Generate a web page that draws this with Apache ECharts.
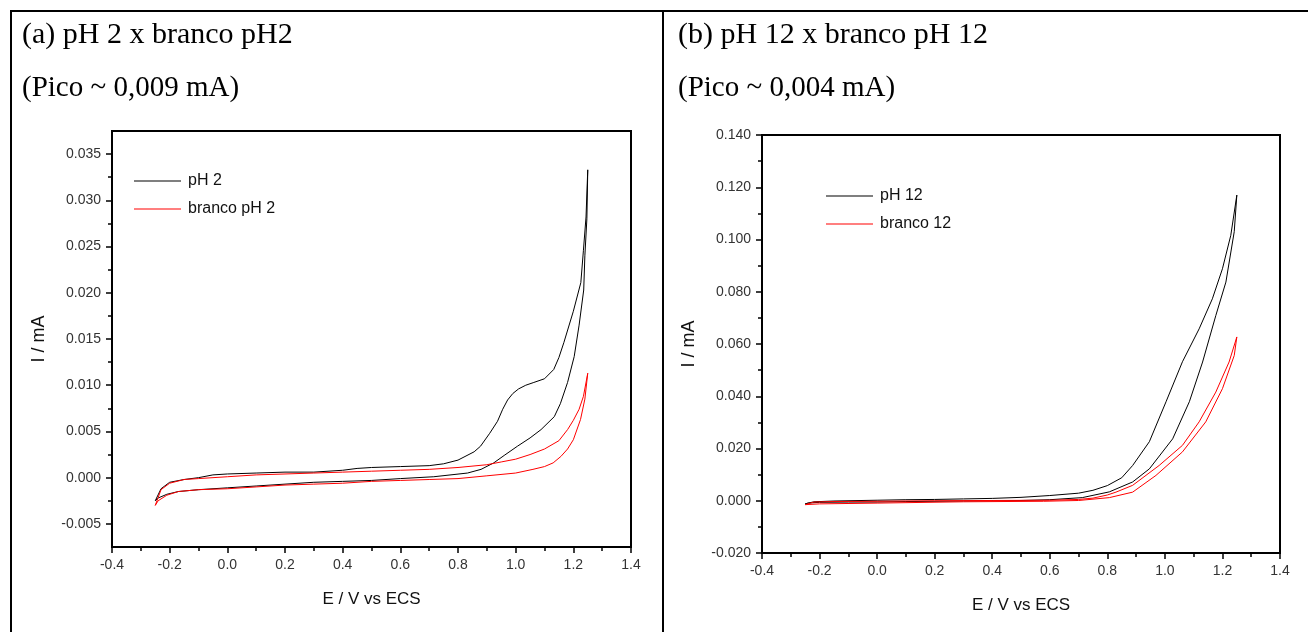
<!DOCTYPE html>
<html>
<head>
<meta charset="utf-8">
<script src="https://cdn.jsdelivr.net/npm/echarts@6/dist/echarts.min.js"></script>
<style>
html,body{margin:0;padding:0;background:#fff;}
#chart{width:1308px;height:632px;}
</style>
</head>
<body>
<div id="chart"></div>
<script>
// ---------- DATA ----------
var titleA1 = '(a) pH 2 x branco pH2';
var titleA2 = '(Pico ~ 0,009 mA)';
var titleB1 = '(b) pH 12 x branco pH 12';
var titleB2 = '(Pico ~ 0,004 mA)';
var xName = 'E / V vs ECS';
var yName = 'I / mA';

var xMajorTicks = [-0.4, -0.2, 0.0, 0.2, 0.4, 0.6, 0.8, 1.0, 1.2, 1.4];
var xMinorTicks = [-0.3, -0.1, 0.1, 0.3, 0.5, 0.7, 0.9, 1.1, 1.3];
var yMajorTicksA = [-0.005, 0.000, 0.005, 0.010, 0.015, 0.020, 0.025, 0.030, 0.035];
var yMinorTicksA = [-0.0025, 0.0025, 0.0075, 0.0125, 0.0175, 0.0225, 0.0275, 0.0325];
var yMajorTicksB = [-0.020, 0.000, 0.020, 0.040, 0.060, 0.080, 0.100, 0.120, 0.140];
var yMinorTicksB = [-0.010, 0.010, 0.030, 0.050, 0.070, 0.090, 0.110, 0.130];

var namesA = ['pH 2', 'branco pH 2'];
var namesB = ['pH 12', 'branco 12'];

// pH 2 (black): forward scan then reverse scan, [E, I]
var pH2 = [
  [-0.25,-0.0025],[-0.23,-0.0012],[-0.2,-0.0005],[-0.15,-0.0002],[-0.1,0.0000],[-0.05,0.0003],
  [0.0,0.0004],[0.1,0.0005],[0.2,0.0006],[0.3,0.0006],[0.4,0.0008],[0.45,0.0010],[0.5,0.0011],
  [0.6,0.0012],[0.7,0.0013],[0.75,0.0015],[0.8,0.0019],[0.856,0.0028],[0.878,0.0034],[0.91,0.0048],
  [0.937,0.0061],[0.955,0.0074],[0.972,0.0084],[0.99,0.0091],[1.01,0.0096],[1.035,0.0100],[1.063,0.0103],
  [1.1,0.0107],[1.132,0.0117],[1.15,0.0130],[1.167,0.0146],[1.2,0.0180],[1.226,0.0211],[1.235,0.0246],
  [1.244,0.0282],[1.25,0.0333],
  [1.247,0.0280],[1.240,0.0240],[1.236,0.0203],[1.22,0.0165],[1.203,0.0131],[1.18,0.0103],[1.155,0.0080],
  [1.134,0.0066],[1.088,0.0052],[1.05,0.0043],[1.006,0.0034],[0.96,0.0024],[0.924,0.0016],[0.88,0.0009],
  [0.833,0.0005],[0.716,0.0001],[0.6,-0.0001],[0.5,-0.0003],[0.4,-0.0004],[0.3,-0.0005],[0.2,-0.0007],
  [0.1,-0.0009],[0.0,-0.0011],[-0.1,-0.0013],[-0.17,-0.0015],[-0.21,-0.0018],[-0.24,-0.0022],[-0.25,-0.0025]
];
// branco pH 2 (red)
var brancoPH2 = [
  [-0.25,-0.0030],[-0.23,-0.0013],[-0.2,-0.0006],[-0.15,-0.0002],[-0.1,-0.0001],[0.0,0.0001],
  [0.1,0.0003],[0.2,0.0004],[0.3,0.0005],[0.4,0.0006],[0.5,0.0007],[0.6,0.0008],[0.7,0.0009],
  [0.8,0.0011],[0.9,0.0014],[0.95,0.0017],[1.0,0.0020],[1.05,0.0025],[1.1,0.0031],[1.15,0.0040],
  [1.18,0.0052],[1.2,0.0062],[1.22,0.0074],[1.235,0.0088],[1.25,0.0113],
  [1.24,0.0085],[1.225,0.0063],[1.2,0.0041],[1.18,0.0031],[1.157,0.0023],[1.13,0.0016],[1.1,0.0012],
  [1.06,0.0009],[1.0,0.0005],[0.9,0.0002],[0.8,-0.0001],[0.7,-0.0002],[0.6,-0.0003],[0.5,-0.0004],
  [0.4,-0.0006],[0.3,-0.0007],[0.2,-0.0008],[0.1,-0.0010],[0.0,-0.0012],[-0.1,-0.0013],[-0.17,-0.0015],
  [-0.21,-0.0019],[-0.24,-0.0025],[-0.25,-0.0030]
];
// pH 12 (black)
var pH12 = [
  [-0.25,-0.0012],[-0.22,-0.0004],[-0.15,-0.0001],[0.0,0.0002],[0.1,0.0004],[0.2,0.0005],[0.3,0.0007],
  [0.4,0.0009],[0.5,0.0013],[0.6,0.0020],[0.7,0.0029],[0.75,0.0040],[0.8,0.0058],[0.85,0.0088],
  [0.888,0.0135],[0.946,0.0226],[1.004,0.0379],[1.061,0.0532],[1.119,0.0658],[1.165,0.0773],
  [1.2,0.0888],[1.229,0.1016],[1.25,0.1170],
  [1.241,0.1030],[1.212,0.0837],[1.177,0.0709],[1.131,0.0531],[1.085,0.0379],[1.027,0.0237],
  [0.946,0.0122],[0.888,0.0072],[0.807,0.0034],[0.713,0.0012],[0.6,0.0004],[0.5,0.0001],
  [0.3,-0.0001],[0.1,-0.0003],[0.0,-0.0005],[-0.1,-0.0005],[-0.2,-0.0006],[-0.24,-0.0009],[-0.25,-0.0012]
];
// branco 12 (red)
var branco12 = [
  [-0.25,-0.0015],[-0.22,-0.0005],[-0.15,-0.0003],[0.0,-0.0002],[0.2,0.0000],[0.4,0.0001],[0.6,0.0002],
  [0.7,0.0005],[0.75,0.0010],[0.8,0.0022],[0.83,0.0033],[0.888,0.0059],[0.98,0.0135],[1.061,0.0212],
  [1.119,0.0302],[1.177,0.0416],[1.223,0.0531],[1.25,0.0627],
  [1.241,0.0556],[1.2,0.0429],[1.142,0.0302],[1.061,0.0187],[0.969,0.0097],[0.888,0.0033],
  [0.807,0.0012],[0.7,0.0001],[0.578,-0.0002],[0.3,-0.0004],[0.0,-0.0009],[-0.2,-0.0012],[-0.25,-0.0015]
];

// ---------- CHART ----------
var chart = echarts.init(document.getElementById('chart'), null, {renderer: 'canvas'});
var sans = 'Liberation Sans, Arial, sans-serif';
var tickFont = {fontFamily: sans, fontSize: 14, color: '#333'};
var serif = 'Liberation Serif, Times New Roman, serif';

function xMain(grid) {
  return {
    type: 'value', gridIndex: grid, min: -0.4, max: 1.4, position: 'bottom',
    name: xName, nameLocation: 'middle', nameGap: 44,
    nameTextStyle: {fontFamily: sans, fontSize: 17, color: '#111'},
    axisLine: {show: true, onZero: false, lineStyle: {color: '#000', width: 2}},
    axisTick: {show: true, inside: false, length: 6, lineStyle: {color: '#000', width: 1.5}, customValues: xMajorTicks},
    axisLabel: Object.assign({show: true, margin: 11, customValues: xMajorTicks,
      formatter: function (v) { return v.toFixed(1); }}, tickFont),
    splitLine: {show: false}
  };
}
function xMinor(grid) {
  return {
    type: 'value', gridIndex: grid, min: -0.4, max: 1.4, position: 'bottom',
    axisLine: {show: false, onZero: false},
    axisTick: {show: true, inside: false, length: 4, lineStyle: {color: '#000', width: 1.5}, customValues: xMinorTicks},
    axisLabel: {show: false}, splitLine: {show: false}
  };
}
function yMain(grid, min, max, ticks) {
  return {
    type: 'value', gridIndex: grid, min: min, max: max, position: 'left',
    name: yName, nameLocation: 'middle', nameGap: 64, nameRotate: 90,
    nameTextStyle: {fontFamily: sans, fontSize: 18, color: '#111'},
    axisLine: {show: true, onZero: false, lineStyle: {color: '#000', width: 2}},
    axisTick: {show: true, inside: false, length: 6, lineStyle: {color: '#000', width: 1.5}, customValues: ticks},
    axisLabel: Object.assign({show: true, margin: 11, customValues: ticks,
      formatter: function (v) { return v.toFixed(3); }}, tickFont),
    splitLine: {show: false}
  };
}
function yMinor(grid, min, max, ticks) {
  return {
    type: 'value', gridIndex: grid, min: min, max: max, position: 'left',
    axisLine: {show: false, onZero: false},
    axisTick: {show: true, inside: false, length: 4, lineStyle: {color: '#000', width: 1.5}, customValues: ticks},
    axisLabel: {show: false}, splitLine: {show: false}
  };
}
function lineSeries(name, data, color, xi, yi) {
  return {
    type: 'line', name: name, data: data, xAxisIndex: xi, yAxisIndex: yi,
    showSymbol: false, symbol: 'none', smooth: false,
    lineStyle: {color: color, width: 1}, itemStyle: {color: color},
    emphasis: {disabled: true}, animation: false
  };
}
function legendAt(names, left, top) {
  return {
    data: names, orient: 'vertical', left: left, top: top, padding: 0,
    icon: 'rect', itemWidth: 47, itemHeight: 1, itemGap: 12,
    textStyle: {fontFamily: sans, fontSize: 16, color: '#111', padding: [0, 0, 0, 2]},
    selectedMode: false
  };
}

var borderStyle = {stroke: '#000', lineWidth: 2};
var option = {
  animation: false,
  backgroundColor: '#fff',
  grid: [
    {left: 112, top: 131, width: 519, height: 416, show: true, borderColor: '#000', borderWidth: 2, backgroundColor: 'transparent'},
    {left: 762, top: 135, width: 518, height: 418, show: true, borderColor: '#000', borderWidth: 2, backgroundColor: 'transparent'}
  ],
  xAxis: [xMain(0), xMinor(0), xMain(1), xMinor(1)],
  yAxis: [
    yMain(0, -0.0075, 0.0375, yMajorTicksA), yMinor(0, -0.0075, 0.0375, yMinorTicksA),
    yMain(1, -0.02, 0.14, yMajorTicksB), yMinor(1, -0.02, 0.14, yMinorTicksB)
  ],
  legend: [legendAt(namesA, 134, 173), legendAt(namesB, 826, 188)],
  series: [
    lineSeries(namesA[0], pH2, '#000000', 0, 0),
    lineSeries(namesA[1], brancoPH2, '#ff0000', 0, 0),
    lineSeries(namesB[0], pH12, '#000000', 2, 2),
    lineSeries(namesB[1], branco12, '#ff0000', 2, 2)
  ],
  graphic: [
    {type: 'line', shape: {x1: 10, y1: 11, x2: 1308, y2: 11}, style: borderStyle, silent: true},
    {type: 'line', shape: {x1: 11, y1: 11, x2: 11, y2: 632}, style: borderStyle, silent: true},
    {type: 'line', shape: {x1: 663, y1: 11, x2: 663, y2: 632}, style: borderStyle, silent: true},
    {type: 'text', left: 22, top: 20, style: {text: titleA1, font: '30px ' + serif, fill: '#000'}},
    {type: 'text', left: 22, top: 74, style: {text: titleA2, font: '29px ' + serif, fill: '#000'}},
    {type: 'text', left: 678, top: 20, style: {text: titleB1, font: '30px ' + serif, fill: '#000'}},
    {type: 'text', left: 678, top: 74, style: {text: titleB2, font: '29px ' + serif, fill: '#000'}}
  ]
};
chart.setOption(option);
</script>
</body>
</html>
